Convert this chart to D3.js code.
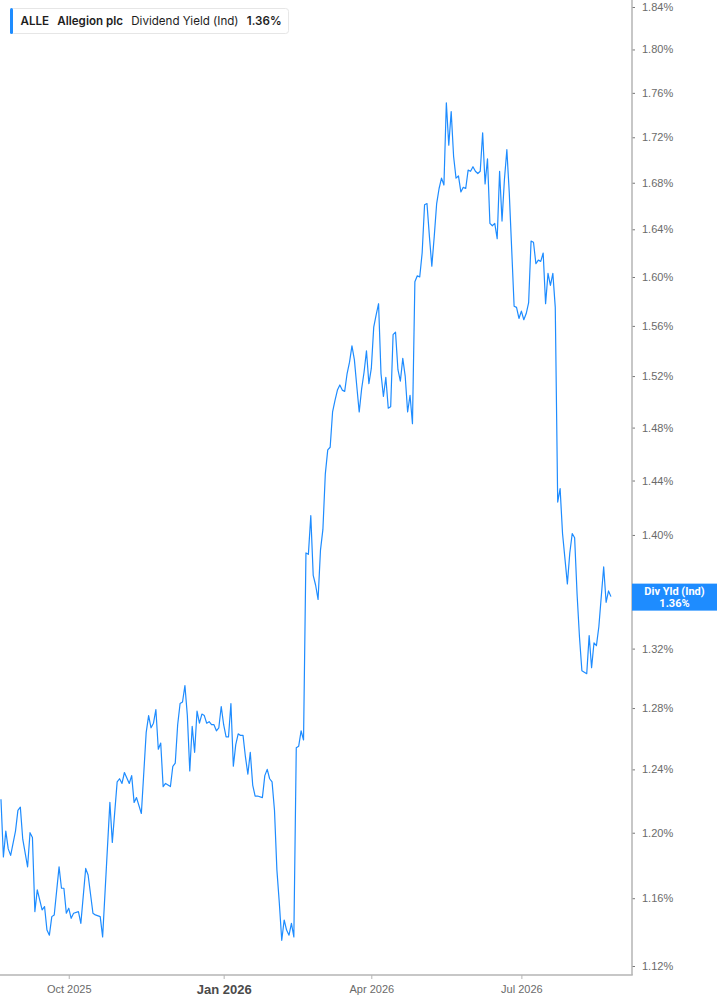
<!DOCTYPE html>
<html>
<head>
<meta charset="utf-8">
<script src="https://cdn.jsdelivr.net/npm/d3@7"></script>
<style>
  body { margin: 0; background: #fff; }
  svg { display: block; }
</style>
</head>
<body>
<div id="chart"></div>
<script>
var width = 717,
    height = 1005,
    plotRight = 632,
    plotBottom = 975;

// trading-day offset from 21 Aug 2025, and indicated dividend yield (%)
var days = [0,1,2,3,4,6,7,8,9,11,12,13,14,15,17,18,19,20,21,22,24,25,26,27,28,29,30,32,33,35,36,38,39,41,42,45,46,48,49,50,51,53,54,55,56,58,
  60,61,62,63,64,65,66,67,68,70,71,72,73,74,75,76,77,78,79,80,81,82,83,84,85,86,87,88,89,90,91,92,93,94,95,96,97,98,99,100,101,102,103,104,105,106,108,109,110,111,112,113,114,115,116,117,118,119,120,121,
  122,123,124,125,126,127,128,129,130,131,132,133,134,135,136,137,138,139,140,141,142,143,144,145,146,147,148,149,150,151,152,153,154,155,156,157,158,159,160,161,162,163,164,165,166,167,168,169,170,
  171,172,173,174,175,176,177,178,179,180,181,182,183,184,185,186,187,188,189,190,191,192,193,194,195,196,197,198,199,200,201,202,203,204,205,206,207,208,209,210,211,212,213,214,215,216,217,218,219,220,
  221,222,223,224,225,226,227,228,229,230,231,232,234,235,236,237,238,239,240,241,242,243,244,245,246,247,248,249,250,251,252];

var yields = [1.221,1.185,1.201,1.190,1.186,1.201,1.214,1.216,1.196,1.179,1.200,1.197,1.152,1.165,1.153,1.155,1.141,1.138,1.149,1.150,1.179,1.166,1.166,1.151,1.154,1.148,1.151,1.152,1.145,1.178,1.174,1.151,1.150,1.149,1.137,1.219,1.194,1.232,1.234,1.231,1.238,1.231,1.236,1.219,1.222,1.212,
  1.264,1.275,1.267,1.270,1.279,1.253,1.257,1.229,1.231,1.229,1.242,1.244,1.269,1.283,1.284,1.295,1.275,1.239,1.268,1.251,1.278,1.270,1.276,1.275,1.270,1.271,1.269,1.269,1.265,1.267,1.281,1.269,1.261,1.261,1.283,1.242,1.256,1.263,1.262,1.262,1.248,1.237,1.251,1.230,1.223,1.223,1.222,1.236,1.240,1.234,1.232,1.214,1.177,1.157,1.135,1.147,1.141,1.138,1.145,1.137,
  1.254,1.255,1.265,1.259,1.387,1.386,1.414,1.371,1.364,1.354,1.389,1.404,1.445,1.463,1.465,1.492,1.501,1.509,1.513,1.509,1.508,1.522,1.531,1.544,1.533,1.512,1.492,1.510,1.523,1.540,1.514,1.526,1.559,1.569,1.578,1.522,1.504,1.519,1.495,1.496,1.553,1.555,1.525,1.516,1.534,1.520,1.492,1.505,1.483,
  1.596,1.601,1.600,1.620,1.661,1.662,1.634,1.609,1.634,1.662,1.675,1.684,1.678,1.751,1.713,1.743,1.703,1.684,1.686,1.672,1.676,1.675,1.691,1.690,1.694,1.690,1.688,1.690,1.724,1.679,1.701,1.645,1.643,1.645,1.632,1.690,1.647,1.683,1.709,1.671,1.623,1.576,1.575,1.566,1.572,1.565,1.570,1.579,1.630,1.629,
  1.611,1.614,1.613,1.620,1.578,1.603,1.593,1.603,1.575,1.424,1.434,1.401,1.365,1.387,1.401,1.398,1.358,1.328,1.305,1.304,1.303,1.329,1.307,1.324,1.322,1.335,1.356,1.377,1.352,1.360,1.356];

var xTickDays = [28, 92, 153, 215],
    xTickLabels = ["Oct 2025", "Jan 2026", "Apr 2026", "Jul 2026"],
    yTicks = [1.12, 1.16, 1.20, 1.24, 1.28, 1.32, 1.36, 1.40, 1.44, 1.48, 1.52, 1.56, 1.60, 1.64, 1.68, 1.72, 1.76, 1.80, 1.84];

var legendParts = [
  { text: "ALLE", bold: true },
  { text: "Allegion plc", bold: true },
  { text: "Dividend Yield (Ind)", bold: false },
  { text: "1.36%", bold: true }
];
var tagLines = ["Div Yld (Ind)", "1.36%"];

var blue = "#1e8cff",
    axisGrey = "#b4b4b4";

var svg = d3.select("#chart")
  .append("svg")
  .attr("width", width)
  .attr("height", height);

var xScale = d3.scaleLinear()
  .domain([-0.4, 260.7])
  .range([0, plotRight]);

// log scale, like the original
var yScale = d3.scaleLog()
  .domain([1.12, 1.84])
  .range([966, 7]);

svg.append("clipPath")
  .attr("id", "plot-clip")
  .append("rect")
  .attr("x", 0)
  .attr("y", 0)
  .attr("width", plotRight)
  .attr("height", plotBottom);

var points = days.map(function(d, i) { return { day: d, value: yields[i] }; });

var line = d3.line()
  .x(function(d) { return xScale(d.day); })
  .y(function(d) { return yScale(d.value); });

svg.append("path")
  .datum(points)
  .attr("clip-path", "url(#plot-clip)")
  .attr("fill", "none")
  .attr("stroke", blue)
  .attr("stroke-width", 1.2)
  .attr("stroke-linejoin", "round")
  .attr("d", line);

var lastY = yScale(yields[yields.length - 1]);

// right axis
var yAxis = d3.axisRight(yScale)
  .tickValues(yTicks)
  .tickSize(3)
  .tickPadding(7)
  .tickFormat(function(d) { return d.toFixed(2) + "%"; });

var gy = svg.append("g")
  .attr("transform", "translate(" + plotRight + ",0)")
  .call(yAxis);
gy.select(".domain").remove();
gy.selectAll(".tick line").attr("stroke", "#777");
gy.selectAll(".tick text")
  .attr("fill", "#6a6a6a")
  .style("font-family", "'Liberation Sans', Arial, sans-serif")
  .style("font-size", "11px");
// the last-value tag sits on top of this label
gy.selectAll(".tick")
  .filter(function(d) { return Math.abs(yScale(d) - lastY) < 18; })
  .select("text").remove();

svg.append("line")
  .attr("x1", plotRight).attr("x2", plotRight)
  .attr("y1", 0).attr("y2", plotBottom)
  .attr("stroke", axisGrey)
  .attr("stroke-width", 1.5);

// bottom axis
var xAxis = d3.axisBottom(xScale)
  .tickValues(xTickDays)
  .tickSize(4)
  .tickPadding(6)
  .tickFormat(function(d, i) { return xTickLabels[i]; });

var gx = svg.append("g")
  .attr("transform", "translate(0," + plotBottom + ")")
  .call(xAxis);
gx.select(".domain").remove();
gx.selectAll(".tick line").attr("stroke", axisGrey);
gx.selectAll(".tick text")
  .attr("fill", "#6a6a6a")
  .style("font-family", "'Liberation Sans', Arial, sans-serif")
  .style("font-size", "11px");
gx.selectAll(".tick text")
  .filter(function(d, i) { return xTickLabels[i].indexOf("Jan") === 0; })
  .attr("fill", "#4a4a4a")
  .style("font-weight", "bold")
  .style("font-size", "13px");

svg.append("line")
  .attr("x1", 0).attr("x2", plotRight + 0.75)
  .attr("y1", plotBottom).attr("y2", plotBottom)
  .attr("stroke", axisGrey)
  .attr("stroke-width", 1.5);

// last value tag on the axis
var tag = svg.append("g");
tag.append("rect")
  .attr("x", plotRight)
  .attr("y", lastY - 13)
  .attr("width", width - plotRight)
  .attr("height", 27)
  .attr("fill", blue);
tag.selectAll("text")
  .data(tagLines)
  .enter()
  .append("text")
  .attr("x", plotRight + (width - plotRight) / 2)
  .attr("y", function(d, i) { return lastY - 1.5 + i * 12; })
  .attr("text-anchor", "middle")
  .attr("fill", "#fff")
  .style("font-family", "Roboto, Arial, sans-serif")
  .style("font-weight", "bold")
  .style("font-size", "11px")
  .text(function(d) { return d; });

// legend box
var legend = svg.append("g");
var legendBg = legend.append("rect")
  .attr("x", 10.5)
  .attr("y", 8.5)
  .attr("rx", 3)
  .attr("height", 25)
  .attr("fill", "#fff")
  .attr("stroke", "#e6e6e6");
legend.append("rect")
  .attr("x", 10)
  .attr("y", 8)
  .attr("width", 3)
  .attr("height", 26)
  .attr("rx", 1.5)
  .attr("fill", blue);

var xPos = 20.5;
legendParts.forEach(function(p) {
  var t = legend.append("text")
    .attr("x", xPos)
    .attr("y", 25)
    .attr("fill", "#1e1e1e")
    .style("font-family", "Inter, 'Open Sans', sans-serif")
    .style("font-size", "11.6px")
    .style("font-weight", p.bold ? 600 : 400)
    .text(p.text);
  xPos += t.node().getComputedTextLength() + 8.2;
});
legendBg.attr("width", xPos - 8.2 + 7 - 10.5);
</script>
</body>
</html>
